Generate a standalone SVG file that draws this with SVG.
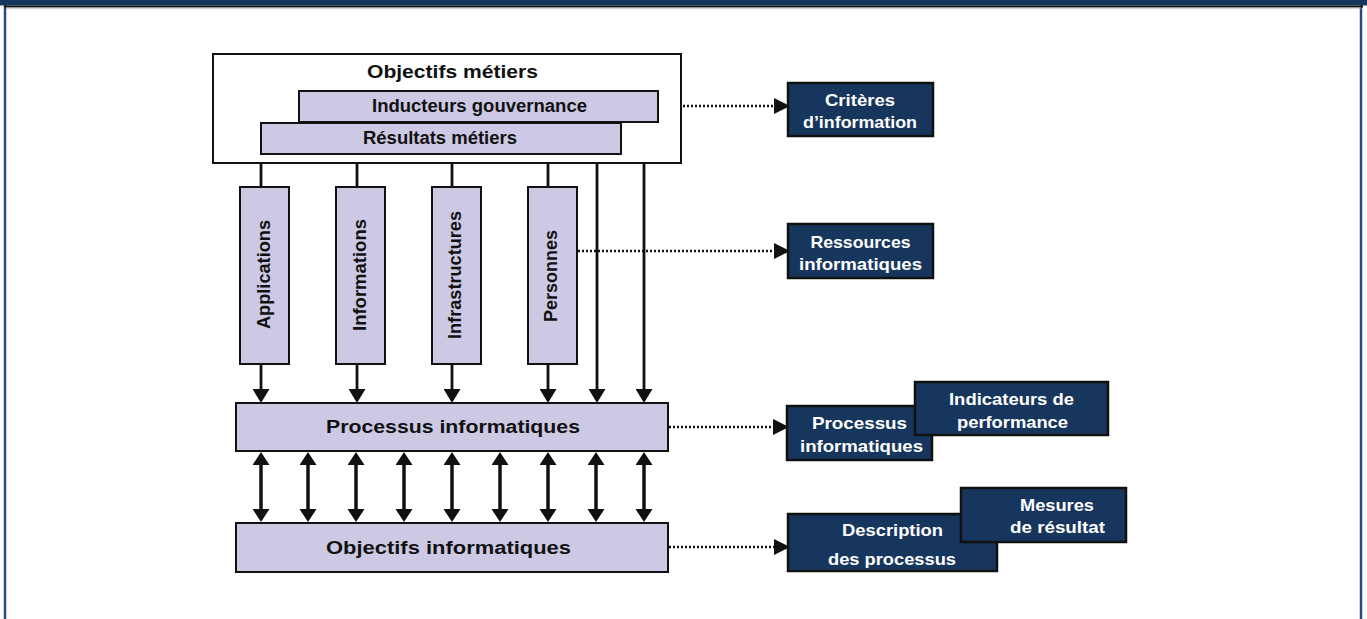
<svg xmlns="http://www.w3.org/2000/svg" width="1367" height="619" viewBox="0 0 1367 619">
  <style>
    .lt { fill: #cdc9e5; stroke: #111; stroke-width: 2; }
    .dk { fill: #17365d; stroke: #111; stroke-width: 2.5; }
    .t { font-family: "Liberation Sans", Arial, sans-serif; font-weight: bold; text-anchor: middle; dominant-baseline: central; }
    .tb { fill: #111; font-size: 17.5px; }
    .tv { fill: #111; font-size: 18px; }
    .tw { fill: #fff; font-size: 17px; }
    .ln { stroke: #111; stroke-width: 2.8; fill: none; }
    .dbl { stroke: #111; stroke-width: 3.5; fill: none; marker-start: url(#headBig); marker-end: url(#headBig); }
    .dot { stroke: #111; stroke-width: 2.5; fill: none; stroke-dasharray: 2 2; marker-end: url(#headSide); }
  </style>
  <defs>
    <marker id="head" markerUnits="userSpaceOnUse" markerWidth="16" markerHeight="17" refX="11" refY="8.5" orient="auto">
      <path d="M0,0 L14,8.5 L0,17 z" fill="#111"/>
    </marker>
    <marker id="headBig" markerUnits="userSpaceOnUse" markerWidth="15" markerHeight="18" refX="10" refY="8.5" orient="auto-start-reverse">
      <path d="M0,0 L13,8.5 L0,17 z" fill="#111"/>
    </marker>
    <marker id="headSide" markerUnits="userSpaceOnUse" markerWidth="17" markerHeight="16" refX="14" refY="8" orient="auto">
      <path d="M0,0 L16,8 L0,16 z" fill="#111"/>
    </marker>
  </defs>

  <!-- page frame and header band -->
  <rect x="0" y="0" width="1367" height="619" fill="#fff"/>
  <rect x="5" y="0" width="1356" height="625" fill="none" stroke="#2b4b7c" stroke-width="2.5"/>
  <rect x="0" y="0" width="1367" height="5.5" fill="#17365d"/>
  <rect x="4" y="5.5" width="1359" height="2" fill="#111"/>
  <rect x="6" y="7.5" width="1355" height="1" fill="#aaa"/>

  <!-- connectors -->
  <g id="connectors">
    <!-- drops from the business objectives box -->
    <line class="ln" x1="261" y1="163" x2="261" y2="187"/>
    <line class="ln" x1="357" y1="163" x2="357" y2="187"/>
    <line class="ln" x1="452" y1="163" x2="452" y2="187"/>
    <line class="ln" x1="548" y1="163" x2="548" y2="187"/>
    <!-- resources down to IT processes -->
    <line class="ln" x1="261" y1="364" x2="261" y2="400" marker-end="url(#head)"/>
    <line class="ln" x1="357" y1="364" x2="357" y2="400" marker-end="url(#head)"/>
    <line class="ln" x1="452" y1="364" x2="452" y2="400" marker-end="url(#head)"/>
    <line class="ln" x1="548" y1="364" x2="548" y2="400" marker-end="url(#head)"/>
    <line class="ln" x1="597" y1="154" x2="597" y2="400" marker-end="url(#head)"/>
    <line class="ln" x1="644" y1="122" x2="644" y2="400" marker-end="url(#head)"/>
    <!-- two-way links between IT processes and IT objectives -->
    <line class="dbl" x1="261" y1="455" x2="261" y2="519"/>
    <line class="dbl" x1="308" y1="455" x2="308" y2="519"/>
    <line class="dbl" x1="356" y1="455" x2="356" y2="519"/>
    <line class="dbl" x1="404" y1="455" x2="404" y2="519"/>
    <line class="dbl" x1="452" y1="455" x2="452" y2="519"/>
    <line class="dbl" x1="500" y1="455" x2="500" y2="519"/>
    <line class="dbl" x1="548" y1="455" x2="548" y2="519"/>
    <line class="dbl" x1="596" y1="455" x2="596" y2="519"/>
    <line class="dbl" x1="644" y1="455" x2="644" y2="519"/>
    <!-- dotted links to the side boxes -->
    <line class="dot" x1="659" y1="106" x2="788" y2="106"/>
    <line class="dot" x1="578" y1="251" x2="788" y2="251"/>
    <line class="dot" x1="669" y1="427" x2="787" y2="427"/>
    <line class="dot" x1="669" y1="547" x2="788" y2="547"/>
  </g>

  <g id="objectifs-metiers">
    <rect x="213" y="54" width="468" height="109" fill="#fff" stroke="#111" stroke-width="2"/>
    <text class="t tb" x="452.5" y="72" font-size="18.5" textLength="171" lengthAdjust="spacingAndGlyphs">Objectifs métiers</text>
  </g>
  <g id="inducteurs">
    <rect class="lt" x="299" y="91" width="359" height="31"/>
    <text class="t tb" x="479.5" y="106" font-size="17" textLength="215" lengthAdjust="spacingAndGlyphs">Inducteurs gouvernance</text>
  </g>
  <g id="resultats-metiers">
    <rect class="lt" x="261" y="123" width="360" height="31"/>
    <text class="t tb" x="440" y="138" font-size="17" textLength="154" lengthAdjust="spacingAndGlyphs">Résultats métiers</text>
  </g>

  <g id="applications">
    <rect class="lt" x="240" y="187" width="49" height="177"/>
    <text class="t tv" transform="translate(264,274.5) rotate(-90)" textLength="109" lengthAdjust="spacingAndGlyphs">Applications</text>
  </g>
  <g id="informations">
    <rect class="lt" x="336" y="187" width="49" height="177"/>
    <text class="t tv" transform="translate(359.5,275) rotate(-90)" textLength="112" lengthAdjust="spacingAndGlyphs">Informations</text>
  </g>
  <g id="infrastructures">
    <rect class="lt" x="432" y="187" width="49" height="177"/>
    <text class="t tv" transform="translate(455,275) rotate(-90)" textLength="128" lengthAdjust="spacingAndGlyphs">Infrastructures</text>
  </g>
  <g id="personnes">
    <rect class="lt" x="528" y="187" width="49" height="177"/>
    <text class="t tv" transform="translate(550.5,276) rotate(-90)" textLength="92" lengthAdjust="spacingAndGlyphs">Personnes</text>
  </g>

  <g id="processus-informatiques">
    <rect class="lt" x="236" y="403" width="432" height="48"/>
    <text class="t tb" x="453" y="427" textLength="254" lengthAdjust="spacingAndGlyphs">Processus informatiques</text>
  </g>
  <g id="objectifs-informatiques">
    <rect class="lt" x="236" y="523" width="432" height="49"/>
    <text class="t tb" x="448.5" y="548" textLength="245" lengthAdjust="spacingAndGlyphs">Objectifs informatiques</text>
  </g>

  <g id="criteres">
    <rect class="dk" x="788" y="83" width="145" height="53"/>
    <text class="t tw" x="860" y="100" textLength="70" lengthAdjust="spacingAndGlyphs">Critères</text>
    <text class="t tw" x="860" y="122" textLength="114" lengthAdjust="spacingAndGlyphs">d’information</text>
  </g>
  <g id="ressources">
    <rect class="dk" x="788" y="224" width="145" height="54"/>
    <text class="t tw" x="860.5" y="242" textLength="100" lengthAdjust="spacingAndGlyphs">Ressources</text>
    <text class="t tw" x="860.5" y="264" textLength="123" lengthAdjust="spacingAndGlyphs">informatiques</text>
  </g>
  <g id="processus-side">
    <rect class="dk" x="787" y="406" width="145" height="54"/>
    <text class="t tw" x="859.5" y="423" textLength="95" lengthAdjust="spacingAndGlyphs">Processus</text>
    <text class="t tw" x="861.5" y="446" textLength="123" lengthAdjust="spacingAndGlyphs">informatiques</text>
  </g>
  <g id="indicateurs">
    <rect class="dk" x="915" y="382" width="193" height="53"/>
    <text class="t tw" x="1011.5" y="399" textLength="125" lengthAdjust="spacingAndGlyphs">Indicateurs de</text>
    <text class="t tw" x="1012.5" y="422" textLength="111" lengthAdjust="spacingAndGlyphs">performance</text>
  </g>
  <g id="description">
    <rect class="dk" x="788" y="514" width="209" height="57"/>
    <text class="t tw" x="892.5" y="530" textLength="101" lengthAdjust="spacingAndGlyphs">Description</text>
    <text class="t tw" x="892" y="559" textLength="128" lengthAdjust="spacingAndGlyphs">des processus</text>
  </g>
  <g id="mesures">
    <rect class="dk" x="961" y="488" width="165" height="54"/>
    <text class="t tw" x="1057" y="505" textLength="74" lengthAdjust="spacingAndGlyphs">Mesures</text>
    <text class="t tw" x="1057.5" y="527" textLength="95" lengthAdjust="spacingAndGlyphs">de résultat</text>
  </g>
</svg>
